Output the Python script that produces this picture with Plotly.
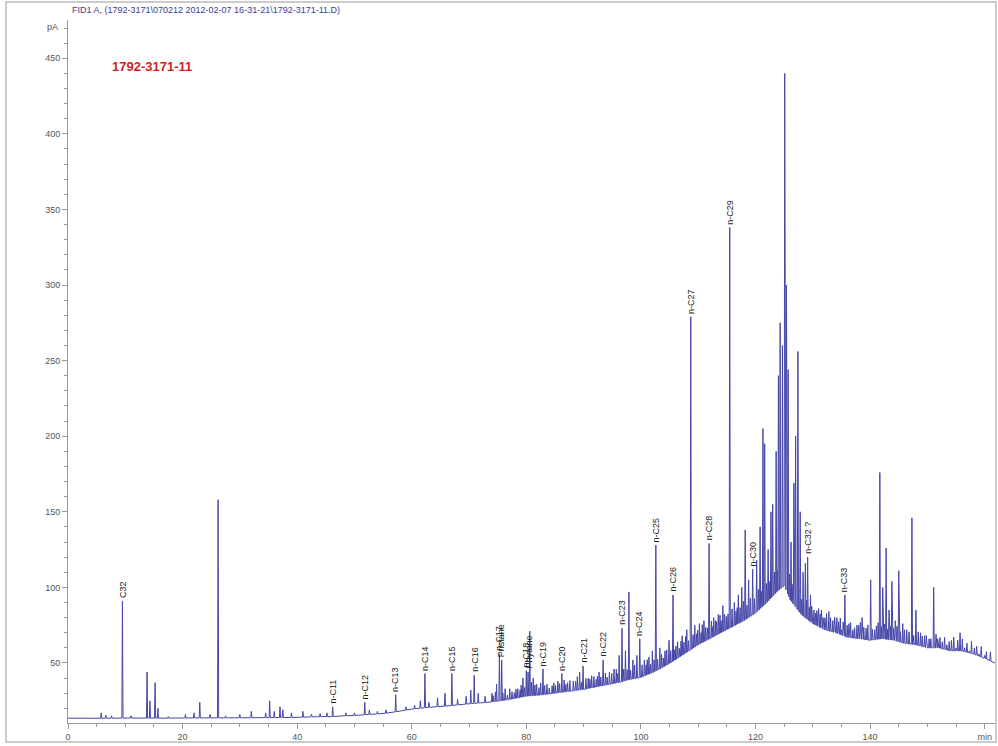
import numpy as np
import plotly.graph_objects as go

# ---------------- data ----------------
# baseline (lower envelope of the signal), minutes / pA
base_t = [0, 4, 8, 12, 16, 20, 24, 28, 32, 36, 40, 42, 44, 46, 48, 50, 52, 54, 56, 58,
          60, 62, 64, 66, 68, 70, 72, 74, 76, 78, 80, 82, 84, 86, 88, 90, 92, 94, 96, 98,
          100, 102, 104, 106, 108, 110, 112, 114, 116, 118, 120, 122, 124, 125, 126, 128,
          130, 132, 134, 136, 138, 140, 142, 144, 146, 148, 150, 152, 154, 156, 158, 160, 161.8]
base_v = [13.5, 13.4, 13.5, 13.6, 13.5, 13.6, 13.7, 13.7, 13.8, 13.9, 14.0, 14.3, 14.5, 14.5, 15.0, 15.3,
          15.8, 16.3, 17.0, 18.2, 19.5, 20.3, 21.0, 21.5, 22.3, 23.0, 23.6, 24.3, 25.2, 26.5, 28.0, 28.6,
          29.5, 30.5, 31.5, 32.5, 34.0, 35.5, 37.0, 39.0, 40.5, 43.5, 47.5, 52.0, 57.0, 62.0, 66.0, 70.0,
          74.0, 78.0, 83.0, 90.0, 98.0, 101.0, 92.0, 82.0, 76.0, 72.0, 70.0, 67.0, 66.0, 65.0, 66.0, 65.0,
          63.0, 62.0, 60.0, 60.0, 58.0, 58.0, 56.0, 53.0, 50.0]

# peaks: retention time (min) and apex (pA)
peak_t = [5.8, 6.6, 7.6, 9.5, 11.0, 13.8, 14.3, 15.2, 15.7, 17.5, 20.5, 22.0, 23.0, 24.8, 26.2,
          27.5, 30.0, 32.0, 34.5, 35.2, 36.0, 37.0, 37.5, 39.0, 41.0, 42.5, 44.0, 45.2, 46.2, 48.5,
          50.0, 51.8, 52.6, 54.0, 55.5, 57.2, 59.0, 60.5, 61.5, 62.3, 63.0, 64.5, 65.8, 67.0, 68.0,
          69.5, 70.3, 70.9, 71.6, 72.8, 74.0, 74.8, 75.3, 75.7, 76.3, 77.5, 78.5, 79.4, 80.0, 80.3,
          80.6, 81.2, 81.8, 82.9, 83.6, 84.5, 85.5, 86.2, 87.2, 88.2, 89.3, 89.9, 90.8, 91.8, 92.7,
          93.4, 94.5, 95.3, 96.2, 96.7, 97.3, 97.9, 98.6, 99.3, 99.8, 100.6, 101.4, 102.0, 102.6,
          103.3, 104.2, 104.9, 105.6, 106.4, 107.2, 108.0, 108.7, 109.4, 110.2, 111.0, 111.9, 112.7,
          113.5, 114.3, 115.5, 116.3, 117.0, 117.6, 118.2, 118.8, 119.5, 120.2, 120.8, 121.3, 121.6,
          122.2, 122.7, 123.0, 123.6, 124.0, 124.3, 124.7, 125.1, 125.4, 125.7, 126.2, 126.7, 127.0,
          127.4, 127.8, 128.3, 128.7, 129.1, 129.6, 130.2, 131.0, 131.8, 132.8, 133.5, 134.2, 135.0,
          135.6, 136.3, 137.0, 137.7, 138.6, 139.3, 140.1, 140.8, 141.7, 142.2, 142.8, 143.3, 143.8,
          144.4, 145.0, 145.7, 146.4, 147.3, 148.0, 148.8, 149.5, 150.3, 151.1, 151.8, 152.6, 153.4,
          154.2, 155.0, 155.7, 156.5, 157.3, 158.2, 159.0, 160.0]
peak_h = [17, 15.5, 15, 91, 15, 44, 25, 37, 20, 14.5, 16, 17, 24, 16, 158,
          15, 16, 18, 17, 25, 18, 21, 19, 17, 18, 16, 16.5, 17, 21, 17,
          17, 24, 19, 18, 19, 29, 21, 22, 25, 43, 24, 27, 30, 43, 26,
          28, 32, 42, 30, 28, 30, 36, 56, 52, 33, 31, 33, 40, 45, 44,
          71, 40, 36, 46, 36, 35, 38, 43, 37, 38, 44, 48, 40, 41, 44,
          52, 44, 46, 55, 73, 58, 97, 52, 55, 66, 52, 54, 58, 128,
          60, 58, 65, 95, 64, 68, 72, 279, 75, 76, 78, 129, 80,
          82, 88, 338, 90, 95, 100, 138, 105, 112, 118, 140, 205, 195,
          125, 150, 155, 190, 240, 275, 260, 440, 300, 244, 130, 169, 200,
          256, 150, 110, 116, 120, 95, 85, 86, 80, 84, 78, 80, 72,
          95, 76, 72, 75, 80, 73, 105, 72, 176, 100, 126, 85, 104,
          78, 111, 76, 72, 146, 85, 70, 68, 66, 100, 66, 64, 62,
          65, 60, 70, 60, 58, 60, 56, 55]

# small noise peaks on the hump: time (min) and rise above baseline (pA)
minor_t = [74.2, 74.6, 75.9, 76.7, 77.1, 77.9, 78.2, 78.9, 79.1, 79.7, 80.9, 81.5, 82.2, 82.5,
           83.2, 84.0, 84.8, 85.1, 85.8, 86.6, 86.9, 87.6, 88.6, 88.9, 89.6, 90.4, 91.1, 91.4,
           92.2, 92.4, 93.0, 93.8, 94.1, 94.9, 95.7, 95.9, 97.0, 97.6, 98.2, 98.9, 100.2, 100.9,
           101.1, 101.7, 102.3, 102.9, 103.6, 103.9, 104.5, 105.2, 105.9, 106.1, 106.7, 107.0,
           107.5, 107.8, 108.3, 109.1, 109.7, 109.9, 110.5, 110.7, 111.3, 111.6, 112.3, 112.5,
           113.0, 113.2, 113.8, 114.0, 114.6, 114.9, 115.2, 115.9, 116.6, 116.8, 117.3, 117.9,
           118.5, 119.1, 119.8, 120.5, 121.0, 121.9, 122.5, 123.3, 123.8, 125.9, 126.4, 128.0,
           128.9, 129.4, 129.8, 130.5, 130.7, 131.3, 131.5, 132.1, 132.4, 133.1, 133.8, 134.5,
           134.8, 135.3, 136.0, 136.6, 137.3, 138.0, 138.3, 138.9, 139.6, 140.4, 141.1, 141.4,
           142.0, 142.5, 143.0, 143.6, 144.1, 144.7, 145.3, 146.0, 146.8, 147.6, 148.4, 149.1,
           149.8, 150.6, 151.5, 152.2, 153.0, 153.8, 154.6, 155.3, 156.1, 156.9, 157.7, 158.6,
           159.4, 160.3, 161.0]
minor_rise = [4, 6, 5, 3, 7, 4, 6, 5, 8, 6, 9, 7, 5, 8,
              6, 4, 7, 5, 6, 8, 5, 7, 6, 9, 5, 7, 6, 8,
              5, 7, 6, 8, 5, 7, 9, 6, 8, 7, 6, 9, 8, 7,
              10, 6, 8, 7, 9, 6, 10, 8, 7, 9, 6, 10,
              8, 11, 7, 9, 8, 10, 7, 12, 9, 8, 11, 7,
              10, 9, 12, 8, 11, 9, 10, 12, 9, 11, 10, 13,
              9, 12, 10, 14, 11, 13, 12, 15, 14, 16, 12, 10,
              12, 9, 11, 8, 10, 9, 12, 8, 11, 9, 10, 8,
              11, 9, 8, 10, 7, 9, 11, 8, 10, 7, 9, 11,
              8, 10, 7, 9, 8, 10, 7, 9, 8, 6, 9, 7,
              8, 6, 9, 7, 8, 6, 9, 7, 8, 6, 8, 6,
              7, 5, 6]

label_names = ["C32", "n-C11", "n-C12", "n-C13", "n-C14", "n-C15", "n-C16", "n-C17", "Pristane",
               "n-C18", "Phytane", "n-C19", "n-C20", "n-C21", "n-C22", "n-C23", "n-C24", "n-C25",
               "n-C26", "n-C27", "n-C28", "n-C29", "n-C30", "n-C32 ?", "n-C33"]
label_t = [9.5, 46.2, 51.8, 57.2, 62.3, 67.0, 70.9, 75.3, 75.7, 80.0, 80.3, 82.9, 86.2, 89.9,
           93.4, 96.7, 99.8, 102.6, 105.6, 108.7, 111.9, 115.5, 119.5, 129.1, 135.6]
label_h = [91, 21, 24, 29, 43, 43, 42, 56, 52, 45, 44, 46, 43, 48, 52, 73, 66, 128, 95, 279,
           129, 338, 112, 120, 95]

# x tick values and labels (last one shows the unit, as in the instrument printout)
x_tickvals = [0, 20, 40, 60, 80, 100, 120, 140, 160]
x_ticktext = ["0", "20", "40", "60", "80", "100", "120", "140", "min"]

# ---------------- build the trace ----------------
HW = 0.1  # half width of a peak foot, minutes
bt = np.array(base_t, float)
bv = np.array(base_v, float)

all_t = list(peak_t) + list(minor_t)
all_top = list(peak_h) + [float(np.interp(t, bt, bv)) + r for t, r in zip(minor_t, minor_rise)]

pts = []
for t, h in zip(all_t, all_top):
    pts.append((t - HW, float(np.interp(t - HW, bt, bv))))
    pts.append((t, h))
    pts.append((t + HW, float(np.interp(t + HW, bt, bv))))
for t, v in zip(base_t, base_v):
    if all(abs(t - p) > HW for p in all_t):
        pts.append((t, v))
pts.sort(key=lambda p: p[0])
xs = [p[0] for p in pts]
ys = [p[1] for p in pts]

fig = go.Figure()
fig.add_trace(go.Scatter(x=xs, y=ys, mode="lines",
                         line=dict(color="#4646a8", width=1), hoverinfo="skip"))

FONT = "Arial, Liberation Sans, sans-serif"
for name, t, h in zip(label_names, label_t, label_h):
    fig.add_annotation(x=t, y=h, text=name, showarrow=False, textangle=-90,
                       xanchor="center", yanchor="bottom", yshift=1,
                       font=dict(family=FONT, size=9, color="#222222"))

# plot geometry (pixels) used for paper-coordinate texts
L, R, T, B = 68, 3, 20, 23
PW, PH = 998 - L - R, 746 - T - B


def px(xp):
    return (xp - L) / PW


def py(yp):
    return (746 - B - yp) / PH


fig.add_annotation(xref="paper", yref="paper", x=px(70), y=py(10), xanchor="left", yanchor="middle",
                   text="FID1 A, (1792-3171\\070212 2012-02-07 16-31-21\\1792-3171-11.D)",
                   showarrow=False, font=dict(family=FONT, size=9, color="#3c3c96"))
fig.add_annotation(xref="paper", yref="paper", x=px(110), y=py(66), xanchor="left", yanchor="middle",
                   text="<b>1792-3171-11</b>", showarrow=False,
                   font=dict(family=FONT, size=13, color="#cc1f24"))
fig.add_annotation(xref="paper", yref="paper", x=px(60), y=py(27), xanchor="right", yanchor="middle",
                   text="pA", showarrow=False, font=dict(family=FONT, size=9, color="#555555"))

# outer frame
fig.add_shape(type="rect", xref="paper", yref="paper", x0=px(6), x1=px(996), y0=py(742), y1=py(2),
              line=dict(color="#bbbbbb", width=1.5), layer="below")

axis_common = dict(showline=True, linecolor="#9a9a9a", linewidth=1, ticks="outside", ticklen=5,
                   tickcolor="#9a9a9a", showgrid=False, zeroline=False,
                   tickfont=dict(family=FONT, size=9, color="#555555"))
fig.update_xaxes(range=[0, 161.8], tickvals=x_tickvals, ticktext=x_ticktext,
                 minor=dict(tick0=0, dtick=5, ticklen=3, ticks="outside", tickcolor="#9a9a9a"),
                 **axis_common)
fig.update_yaxes(range=[10.3, 475.3], tick0=0, dtick=50,
                 minor=dict(dtick=10, ticklen=3, ticks="outside", tickcolor="#9a9a9a"),
                 **axis_common)

fig.update_layout(width=998, height=746, margin=dict(l=L, r=R, t=T, b=B),
                  plot_bgcolor="white", paper_bgcolor="white", showlegend=False)

fig.write_html("out.html", config={"displayModeBar": False},
               post_script="document.body.style.margin='0';document.body.style.overflow='hidden';")
